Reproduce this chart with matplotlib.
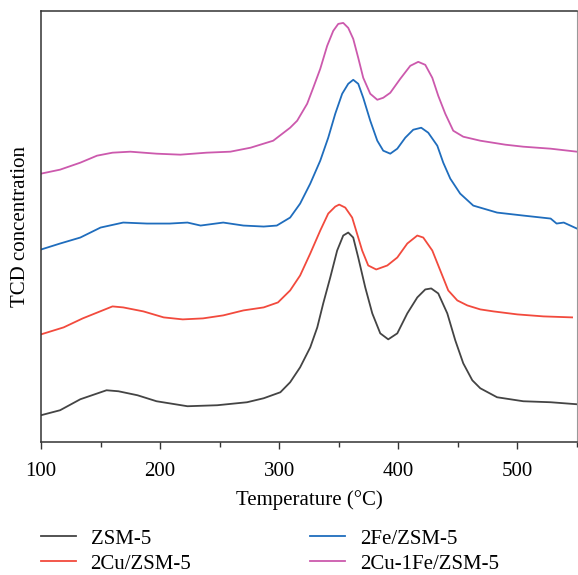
import matplotlib
matplotlib.use('Agg')
import matplotlib.pyplot as plt
from matplotlib.ticker import MultipleLocator

plt.rcParams['font.family'] = ['Liberation Serif', 'DejaVu Serif']

# temperature (C) and TCD signal (arb. u)
t_zsm = [100, 116, 133, 155, 165, 181, 197, 223, 248, 273, 287, 301,
         309.2, 317.6, 326.1, 332.0, 337.0, 342.9, 348.7, 353.8, 358.0,
         362.2, 366.4, 372.3, 378.2, 384.9, 391.6, 399.2, 407.6, 416.0,
         422.7, 427.7, 433.6, 441.2, 447.9, 454.6, 462.2, 468.9, 483, 505,
         528, 550]
y_zsm = [27, 32, 43, 52, 51, 47, 41, 36, 37, 40, 44, 50,
         60, 75, 95, 115, 139, 165, 192, 207, 210,
         205, 185, 155, 129, 109, 103, 109, 129, 145,
         153, 154, 149, 129, 102, 79, 62, 54, 45, 41,
         40, 38]

t_cu = [100, 119, 135, 160, 169, 186, 203, 219, 236, 253, 270, 287, 299,
        309.2, 317.6, 326.1, 334.5, 341.2, 347.1, 350.4, 355.5, 361.3,
        366.4, 369.7, 374.8, 381.5, 390.8, 399.2, 407.6, 416.0, 421.0,
        428.6, 435.3, 442.0, 449.6, 458.0, 468.9, 480, 500, 522, 546]
y_cu = [108, 115, 124, 136, 135, 131, 125, 123, 124, 127, 132, 135, 140,
        152, 167, 189, 212, 229, 236, 238, 235, 225,
        205, 192, 177, 173, 177, 185, 199, 207, 205,
        192, 172, 152, 142, 137, 133, 131, 128, 126, 125]

t_fe = [100, 116, 133, 150, 169, 189, 208, 223, 234, 253, 270, 287, 298,
        309.2, 317.6, 326.1, 334.5, 341.2, 347.1, 352.9, 358.0, 362.2,
        366.4, 370.6, 376.5, 382.4, 387.4, 393.3, 399.2, 405.9, 412.6,
        419.3, 425.2, 432.8, 437.8, 443.7, 452, 463, 483, 505, 528, 533,
        539, 550]
y_fe = [193, 199, 205, 215, 220, 219, 219, 220, 217, 220, 217, 216, 217,
        225, 239, 259, 282, 305, 329, 349, 359, 363,
        359, 345, 322, 302, 292, 289, 294, 305, 313,
        315, 310, 297, 280, 264, 249, 237, 230, 227, 224, 219,
        220, 214]

t_cufe = [100, 116, 133, 147, 160, 175, 197, 217, 239, 259, 276, 295,
          309.2, 315.1, 323.5, 328.6, 334.5, 340.3, 345.4, 349.6, 353.8,
          358.0, 362.2, 366.4, 370.6, 376.5, 382.4, 387.4, 393.3, 401.7,
          410.1, 416.8, 422.7, 428.6, 433.6, 439.5, 446.2, 454.6, 468.9,
          490, 505, 528, 550]
y_cufe = [269, 273, 280, 287, 290, 291, 289, 288, 290, 291, 295, 302,
          315, 322, 339, 355, 374, 397, 412, 419, 420,
          415, 404, 385, 365, 349, 343, 345, 350, 364,
          377, 381, 378, 365, 347, 329, 312, 306, 302,
          298, 296, 294, 291]

labels = ['ZSM-5', '2Cu/ZSM-5', '2Fe/ZSM-5', '2Cu-1Fe/ZSM-5']
colors = ['#444444', '#f24a3d', '#1f6dbd', '#cc59ad']

fig = plt.figure(figsize=(5.78, 5.75), dpi=100)
ax = fig.add_axes([0.071, 0.231, 0.927, 0.750])

series = [(t_zsm, y_zsm), (t_cu, y_cu), (t_fe, y_fe), (t_cufe, y_cufe)]
lines = []
for (tt, yy), lab, col in zip(series, labels, colors):
    ln, = ax.plot(tt, yy, color=col, lw=1.3, label=lab,
                  solid_joinstyle='round')
    lines.append(ln)

ax.set_xlim(100, 550)
ax.set_ylim(0, 432)
ax.xaxis.set_major_locator(MultipleLocator(100))
ax.xaxis.set_minor_locator(MultipleLocator(50))
ax.tick_params(axis='x', which='major', direction='out', length=5,
               width=1, color='#333333', labelsize=15, pad=9,
               top=False)
ax.tick_params(axis='x', which='minor', direction='out', length=3.5,
               width=1, color='#333333', top=False)
ax.set_yticks([])
for side in ['left', 'bottom', 'top']:
    ax.spines[side].set_color('#333333')
    ax.spines[side].set_linewidth(1.1)
ax.spines['right'].set_color('#999999')

ax.set_xlabel('Temperature (°C)', fontsize=15, labelpad=6.5)
ax.set_ylabel('TCD concentration', fontsize=15, labelpad=8)

fig.legend(handles=lines, labels=labels, ncol=2, loc='upper left',
           bbox_to_anchor=(0.0557, 0.0945), frameon=False, fontsize=15,
           handlelength=1.7, handletextpad=0.7, columnspacing=5.7,
           labelspacing=0.26, borderaxespad=0)

fig.savefig('out.png', dpi=100)
